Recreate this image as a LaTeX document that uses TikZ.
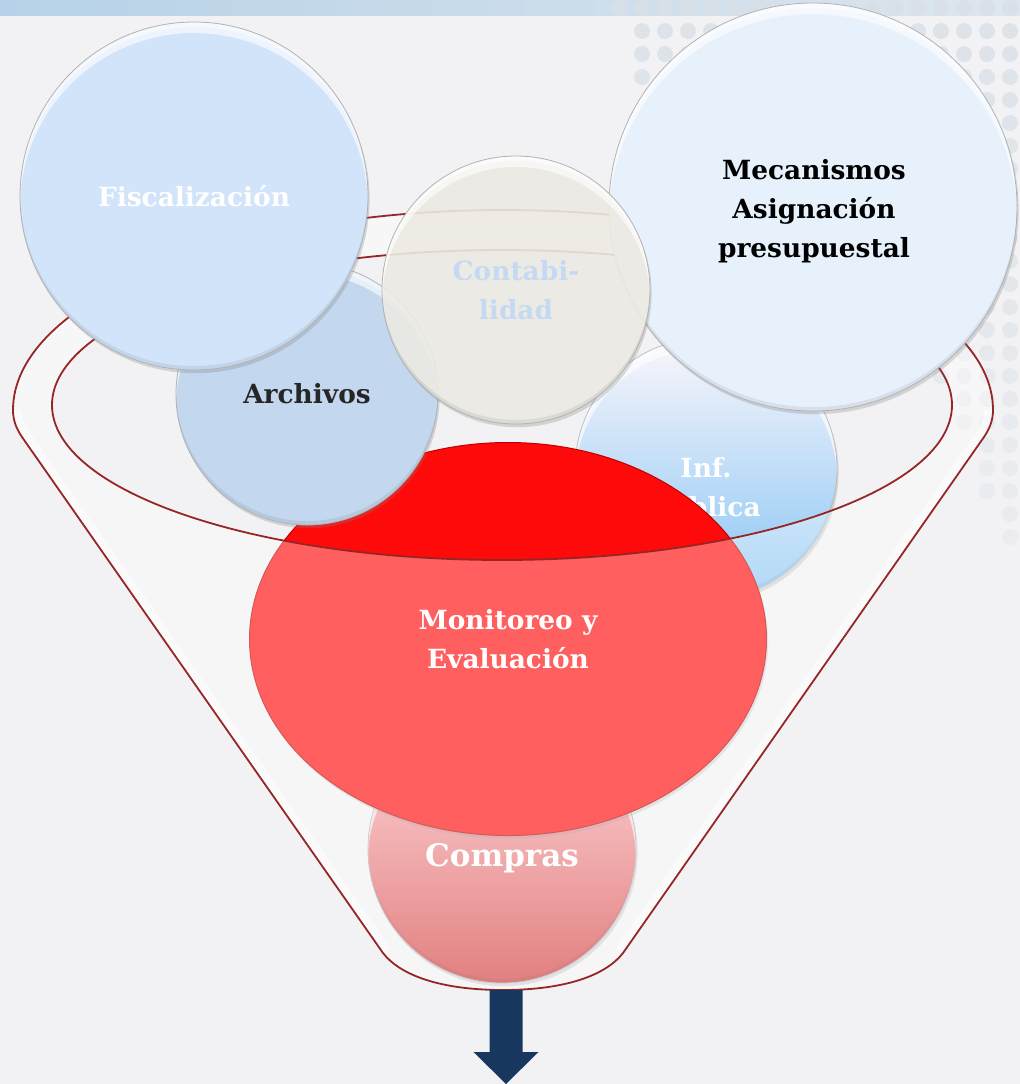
\documentclass[tikz,border=0pt]{standalone}
\usepackage{fontspec}
\setmainfont{DejaVu Serif}
\usetikzlibrary{shapes.geometric,shadows}

\definecolor{paper}{HTML}{F2F2F4}
\definecolor{bandl}{HTML}{B7D2E8}
\definecolor{bandr}{HTML}{DDE6EE}
\definecolor{dotgray}{HTML}{D9E0E7}
\definecolor{rimred}{HTML}{962626}
\definecolor{fiscblue}{HTML}{D2E4FA}
\definecolor{archblue}{HTML}{C3D8EF}
\definecolor{contacream}{HTML}{F1EFE7}
\definecolor{contatext}{HTML}{C5DAF2}
\definecolor{mecanblue}{HTML}{E7F1FC}
\definecolor{monitred}{HTML}{FF0A0A}
\definecolor{arrownavy}{HTML}{17375E}

\begin{document}
\begin{tikzpicture}[x=0.5pt,y=-0.5pt,
    bubble/.style={circle,inner sep=0pt,minimum size=#1,align=center,
      draw=black!30,line width=0.4pt,
      font=\bfseries\fontsize{13.2}{19.5}\selectfont,
      drop shadow={opacity=.28,shadow xshift=.8pt,shadow yshift=-1.6pt},
      path picture={
        \fill[white,opacity=.45,even odd rule] (path picture bounding box.south west) rectangle (path picture bounding box.north east)
          ([yshift=-2.5pt]path picture bounding box.center) circle (#1/2);
        \fill[white,opacity=.6,even odd rule] (path picture bounding box.south west) rectangle (path picture bounding box.north east)
          ([yshift=-5.5pt]path picture bounding box.center) circle (#1/2);
        \fill[black,opacity=.07,even odd rule] (path picture bounding box.south west) rectangle (path picture bounding box.north east)
          ([yshift=2pt]path picture bounding box.center) circle (#1/2);
      }},
    rim/.style={draw=rimred,line width=0.9pt},
    tag/.style={inner sep=0pt,align=center,font=\bfseries\fontsize{13.2}{19.5}\selectfont},
  ]
  % background, top band and dot pattern
  \fill[paper] (0,0) rectangle (1020,1084);
  \useasboundingbox (0,0) rectangle (1020,1084);
  \shade[left color=bandl,right color=bandr] (0,0) rectangle (1020,15);
  \foreach \i in {0,...,24}
    \foreach \j in {0,...,17}{
      \pgfmathsetmacro{\dx}{619+23*\j}
      \pgfmathsetmacro{\dy}{8+23*\i}
      \pgfmathtruncatemacro{\keepdot}{((\dy<90) && (\dx>630)) || (\dx>955+0.4*(\dy-420)) || ((\dy<20) && (\dx>600)) ? 1 : 0}
      \pgfmathsetmacro{\dotop}{0.85-\dy/1000}
      \ifnum\keepdot=1
        \fill[dotgray,opacity=\dotop] (\dx,\dy) circle (8);
      \fi
    }

  % funnel, back rim
  \fill[white,opacity=.4] (13,410) arc[start angle=180,end angle=360,x radius=490,y radius=200]
    -- (952,405) arc[start angle=0,end angle=-180,x radius=450,y radius=155] -- cycle;

  % bubbles inside the funnel
  \node[bubble=131pt,top color=white!60!violet!8,bottom color={rgb,255:red,134;green,196;blue,244},draw=black!25] (infpub) at (706,469) {};
  \node[tag,text=white] (inftext) at (706,490) {Inf.\\pública};
  \node[bubble=134pt,top color={rgb,255:red,255;green,198;blue,204},bottom color={rgb,255:red,212;green,60;blue,60}] (compras) at (502,849) {};
  \node[tag,text=white,font=\bfseries\fontsize{15.5}{20}\selectfont] (comprastext) at (502,858) {Compras};
  \node[ellipse,inner sep=0pt,minimum width=258.5pt,minimum height=196.5pt,fill=monitred,draw=red!75!black,line width=.5pt,
    drop shadow={opacity=.25,shadow xshift=.8pt,shadow yshift=-1.6pt},
    text=white,align=center,font=\bfseries\fontsize{13.2}{19.5}\selectfont] (monit) at (508,639) {Monitoreo y\\Evaluación};

  % funnel, front wall
  \fill[white,opacity=.35] (13,410) .. controls (13,420) and (16,428) .. (22,437) -- (383,953)
    .. controls (400,975) and (440,990) .. (503,990) .. controls (566,990) and (606,975) .. (623,953)
    -- (984,437) .. controls (990,428) and (993,420) .. (993,410)
    -- (952,405) arc[start angle=0,end angle=180,x radius=450,y radius=155] -- cycle;
  \begin{scope}
    \clip (13,410) .. controls (13,420) and (16,428) .. (22,437) -- (383,953)
      .. controls (400,975) and (440,990) .. (503,990) .. controls (566,990) and (606,975) .. (623,953)
      -- (984,437) .. controls (990,428) and (993,420) .. (993,410) -- cycle;
    \draw[white,opacity=.5,line width=9pt] (13,410) .. controls (13,420) and (16,428) .. (22,437) -- (383,953);
    \draw[white,opacity=.5,line width=9pt] (623,953) -- (984,437) .. controls (990,428) and (993,420) .. (993,410);
  \end{scope}
  \draw[rim] (13,410) arc[start angle=180,end angle=360,x radius=490,y radius=200]
    .. controls (993,420) and (990,428) .. (984,437) -- (623,953)
    .. controls (606,975) and (566,990) .. (503,990) .. controls (440,990) and (400,975) .. (383,953)
    -- (22,437) .. controls (16,428) and (13,420) .. (13,410);
  \draw[rim] (502,405) ellipse[x radius=450,y radius=155];

  % bubbles on the rim
  \node[bubble=131pt,fill=archblue,text=black!85] (arch) at (307,394) {Archivos};
  \node[bubble=174pt,fill=fiscblue,text=white] (fisc) at (194,196) {Fiscalización};
  \node[bubble=204pt,fill=mecanblue,text=black] (mecan) at (813,207) {};
  \node[tag,text=black] (mecantext) at (814,211) {Mecanismos\\Asignación\\presupuestal};
  \node[bubble=134pt,fill=contacream,fill opacity=.86,text opacity=1,text=contatext] (conta) at (516,290) {Contabi-\\lidad};

  % outlet arrow
  \coordinate (spout) at (506,990);
  \coordinate (tip) at (506,1084);
  \fill[arrownavy] ([xshift=-8.25pt]spout) -- ([xshift=8.25pt]spout) -- ([xshift=8.25pt,yshift=-31pt]spout)
    -- ([xshift=16.25pt,yshift=-31pt]spout) -- (tip) -- ([xshift=-16.25pt,yshift=-31pt]spout)
    -- ([xshift=-8.25pt,yshift=-31pt]spout) -- cycle;
\end{tikzpicture}
\end{document}
